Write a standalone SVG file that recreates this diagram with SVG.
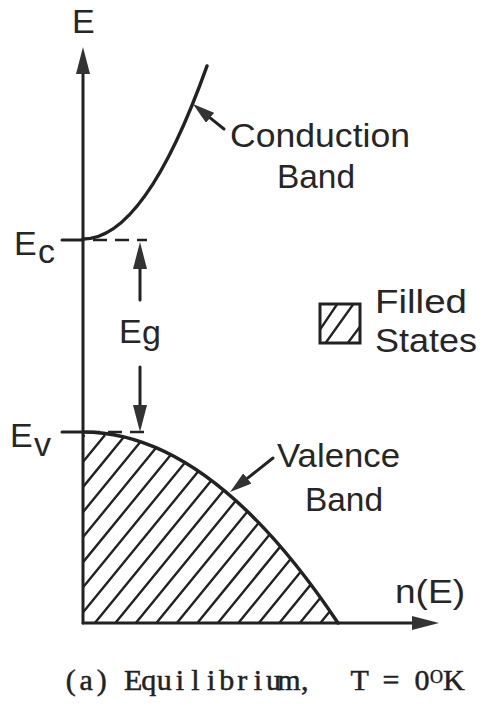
<svg xmlns="http://www.w3.org/2000/svg" width="482" height="704" viewBox="0 0 482 704">
<style>
.ln{stroke:#222;stroke-width:3;fill:none;stroke-linecap:round}
.cv{stroke:#222;stroke-width:3.5;fill:none;stroke-linecap:round}
.ds{stroke:#222;stroke-width:2.6;fill:none;stroke-dasharray:14 8}
.ht{stroke:#222;stroke-width:2.4;fill:none}
.lb{font-family:"Liberation Sans",Arial,sans-serif;font-size:34px;fill:#262626}
.cap{font-family:"Liberation Serif","Times New Roman",serif;font-size:30px;fill:#222;stroke:#222;stroke-width:0.5}
</style>
<defs>
<marker id="ah" viewBox="0 0 27 14" refX="0" refY="7" markerWidth="27" markerHeight="14" markerUnits="userSpaceOnUse" orient="auto">
<path d="M0,0 L27,7 L0,14 Z" fill="#333"/>
</marker>
<marker id="ahs" viewBox="0 0 22 13" refX="0" refY="6.5" markerWidth="22" markerHeight="13" markerUnits="userSpaceOnUse" orient="auto">
<path d="M0,0 L22,6.5 L0,13 Z" fill="#333"/>
</marker>
<clipPath id="vclip"><path d="M83,432 Q210.5,432 338,623 L83,623 Z"/></clipPath>
<clipPath id="lclip"><rect x="321" y="305" width="38" height="37"/></clipPath>
</defs>

<g id="valence-fill" clip-path="url(#vclip)">
<path class="ht" d="M17,643 L187,435 M37.5,643 L207.5,435 M58,643 L228,435 M78.5,643 L248.5,435 M99,643 L269,435 M119.5,643 L289.5,435 M140,643 L310,435 M160.5,643 L330.5,435 M181,643 L351,435 M201.5,643 L371.5,435 M222,643 L392,435 M242.5,643 L412.5,435 M263,643 L433,435 M283.5,643 L453.5,435 M304,643 L474,435 M324.5,643 L494.5,435 M-3.5,643 L166.5,435 M-24,643 L146,435 M-44.5,643 L125.5,435 M-65,643 L105,435 M-85.5,643 L84.5,435"/>
</g>

<g id="axes">
<line class="ln" x1="83" y1="623" x2="83" y2="74" marker-end="url(#ah)"/>
<line class="ln" x1="83" y1="623" x2="412" y2="623" marker-end="url(#ah)"/>
<text class="lb" x="72" y="33">E</text>
<text class="lb" x="395" y="603" textLength="70" lengthAdjust="spacingAndGlyphs">n(E)</text>
</g>

<g id="conduction-band">
<path class="cv" d="M83,239 Q145,239 207,66"/>
<text class="lb" x="230" y="147" textLength="180" lengthAdjust="spacingAndGlyphs">Conduction</text>
<text class="lb" x="277" y="188" textLength="78" lengthAdjust="spacingAndGlyphs">Band</text>
</g>

<g id="valence-band">
<path class="cv" d="M83,432 Q210.5,432 338,623"/>
<text class="lb" x="277" y="467" textLength="123" lengthAdjust="spacingAndGlyphs">Valence</text>
<text class="lb" x="305" y="511" textLength="78" lengthAdjust="spacingAndGlyphs">Band</text>
</g>

<g id="Ec">
<line class="ln" x1="62" y1="240" x2="83" y2="240"/>
<line class="ds" x1="93" y1="240" x2="147" y2="240"/>
<text class="lb" x="14" y="255">E</text>
<text class="lb" x="38" y="263">c</text>
</g>

<g id="Ev">
<line class="ln" x1="62" y1="432" x2="83" y2="432"/>
<line class="ds" x1="86" y1="432" x2="147" y2="432"/>
<text class="lb" x="10" y="447">E</text>
<text class="lb" x="34" y="456">v</text>
</g>

<g id="Eg">
<text class="lb" x="119" y="343">E</text>
<text class="lb" x="142" y="344">g</text>
</g>

<g id="legend">
<rect x="320" y="304" width="40" height="39" fill="none" stroke="#222" stroke-width="3"/>
<g clip-path="url(#lclip)">
<path class="ht" d="M315,337 L340,300 M322,348 L357,299 M344,348 L365,320"/>
</g>
<text class="lb" x="375" y="313" textLength="92" lengthAdjust="spacingAndGlyphs">Filled</text>
<text class="lb" x="375" y="352" textLength="102" lengthAdjust="spacingAndGlyphs">States</text>
</g>

<g id="connectors">
<line class="ln" x1="140" y1="300" x2="140" y2="269" marker-end="url(#ah)"/>
<line class="ln" x1="140" y1="367" x2="140" y2="405" marker-end="url(#ah)"/>
<line class="ln" x1="224" y1="129" x2="210.1" y2="117.8" marker-end="url(#ahs)"/>
<line class="ln" x1="273" y1="458" x2="247.3" y2="478.4" marker-end="url(#ahs)"/>
</g>

<g id="caption">
<text class="cap" x="65.7 79.6 96.8 109.8 124.0 141.2 156.8 175.7 191.3 206.9 219.2 237.3 253.7 266.0 277.3 300.9" y="690">(a) Equilibrium,</text>
<text class="cap" x="350.6 367.6 382.5 398.8 414.6" y="690">T = 0</text>
<text class="cap" x="430" y="683" style="font-size:18px">O</text>
<text class="cap" x="443" y="690">K</text>
</g>
</svg>
